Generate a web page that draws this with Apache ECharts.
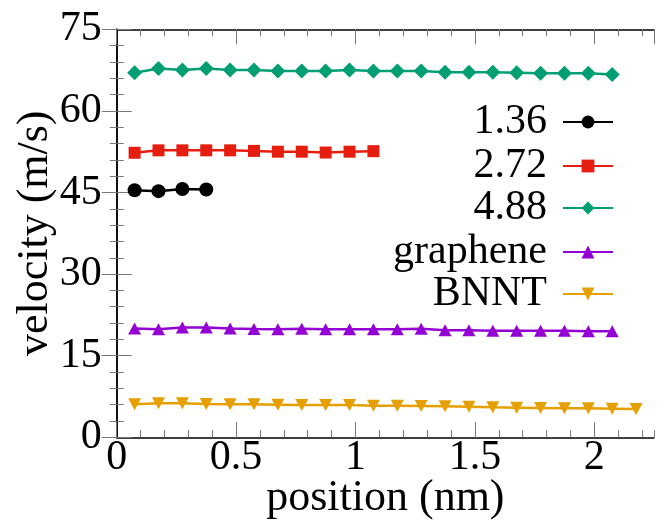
<!DOCTYPE html>
<html>
<head>
<meta charset="utf-8">
<script src="https://cdn.jsdelivr.net/npm/echarts@6/dist/echarts.min.js"></script>
<style>
  html, body { margin: 0; padding: 0; background: #fff; }
  #chart { width: 664px; height: 520px; }
</style>
</head>
<body>
<div id="chart"></div>
<script>
// positions (nm), bin centres
var xPos = [0.075, 0.175, 0.275, 0.375, 0.475, 0.575, 0.675, 0.775, 0.875, 0.975, 1.075,
            1.175, 1.275, 1.375, 1.475, 1.575, 1.675, 1.775, 1.875, 1.975, 2.075, 2.175];

// velocities (m/s)
var v136 = [45.4, 45.25, 45.65, 45.55];
var v272 = [52.3, 52.75, 52.75, 52.75, 52.75, 52.65, 52.5, 52.5, 52.35, 52.5, 52.6];
var v488 = [67.0, 67.8, 67.5, 67.8, 67.5, 67.5, 67.35, 67.35, 67.35, 67.5, 67.35,
            67.35, 67.35, 67.1, 67.1, 67.1, 67.0, 66.9, 66.9, 66.9, 66.7];
var vGraphene = [20.0, 19.85, 20.2, 20.2, 20.0, 19.9, 19.85, 19.95, 19.85, 19.85, 19.85,
                 19.85, 19.95, 19.7, 19.7, 19.6, 19.6, 19.6, 19.6, 19.5, 19.5];
var vBNNT = [6.06, 6.24, 6.24, 6.12, 6.06, 6.06, 6.0, 5.94, 5.94, 5.94, 5.81,
             5.81, 5.75, 5.69, 5.63, 5.51, 5.45, 5.39, 5.32, 5.32, 5.26, 5.2];

var names = ['1.36', '2.72', '4.88', 'graphene', 'BNNT'];
var colors = ['#000000', '#e51e10', '#009e73', '#9400d3', '#e69f00'];

var FONT = 'Liberation Serif';
var TICK = '#777';

function pairs(vals) {
    return vals.map(function (v, i) { return [xPos[i], v]; });
}

function mkSeries(i, vals, symbol, size, rotate) {
    return {
        name: names[i],
        type: 'line',
        data: pairs(vals),
        symbol: symbol,
        symbolSize: size,
        symbolRotate: rotate || 0,
        showAllSymbol: true,
        lineStyle: { color: colors[i], width: 2.5 },
        itemStyle: { color: colors[i] },
        emphasis: { disabled: true },
        animation: false,
        z: 3
    };
}

function mkLegend(i, top) {
    return {
        data: [names[i]],
        right: 50,
        top: top,
        orient: 'horizontal',
        align: 'right',
        padding: 0,
        itemWidth: 50,
        itemHeight: 16,
        selectedMode: false,
        textStyle: { fontFamily: FONT, fontSize: 42, color: '#000', padding: [0, 11, 0, 0] }
    };
}

var xMin = 0, xMax = 2.25;
var yMin = 0, yMax = 75;

function xAx(pos, interval, len, showLine, withLabels) {
    return {
        type: 'value',
        position: pos,
        min: xMin, max: xMax, interval: interval,
        axisLine: { show: showLine, lineStyle: { color: '#000', width: 1.5 } },
        axisTick: { show: true, inside: true, length: len, lineStyle: { color: TICK, width: 1 } },
        axisLabel: withLabels ? {
            show: true, fontFamily: FONT, fontSize: 42, color: '#000', margin: 0,
            showMaxLabel: false
        } : { show: false },
        splitLine: { show: false }
    };
}

function yAx(pos, withLabels) {
    return {
        type: 'value',
        position: pos,
        min: yMin, max: yMax, interval: 15,
        axisLine: { show: true, lineStyle: { color: '#000', width: 1.5 } },
        axisTick: { show: true, inside: true, length: 15, lineStyle: { color: TICK, width: 1 } },
        minorTick: { show: true, splitNumber: 5, length: 7, lineStyle: { color: TICK, width: 1 } },
        axisLabel: withLabels ? { show: true, fontFamily: FONT, fontSize: 42, color: '#000', margin: 15 } : { show: false },
        splitLine: { show: false }
    };
}

var xMain = xAx('bottom', 0.5, 15, true, true);
xMain.name = 'position (nm)';
xMain.nameLocation = 'middle';
xMain.nameGap = 39;
xMain.nameMoveOverlap = false;
xMain.nameTextStyle = { fontFamily: FONT, fontSize: 44, color: '#000' };

var yMain = yAx('left', true);
yMain.name = 'velocity (m/s)';
yMain.nameLocation = 'middle';
yMain.nameGap = 59;
yMain.nameMoveOverlap = false;
yMain.nameTextStyle = { fontFamily: FONT, fontSize: 44, color: '#000' };

var option = {
    backgroundColor: '#fff',
    animation: false,
    grid: { left: 116.7, right: 10, top: 29.3, bottom: 82.7, containLabel: false, outerBoundsMode: 'none' },
    xAxis: [
        xMain,
        xAx('bottom', 0.1, 7, false, false),
        xAx('top', 0.5, 15, true, false),
        xAx('top', 0.1, 7, false, false)
    ],
    yAxis: [
        yMain,
        yAx('right', false)
    ],
    legend: [
        mkLegend(0, 101),
        mkLegend(1, 145),
        mkLegend(2, 187),
        mkLegend(3, 231),
        mkLegend(4, 273)
    ],
    series: [
        mkSeries(0, v136, 'circle', 14),
        mkSeries(1, v272, 'rect', 12),
        mkSeries(2, v488, 'diamond', 15),
        mkSeries(3, vGraphene, 'triangle', [13, 12]),
        mkSeries(4, vBNNT, 'triangle', [13, 12], 180)
    ]
};

var chart = echarts.init(document.getElementById('chart'));
chart.setOption(option);
</script>
</body>
</html>
